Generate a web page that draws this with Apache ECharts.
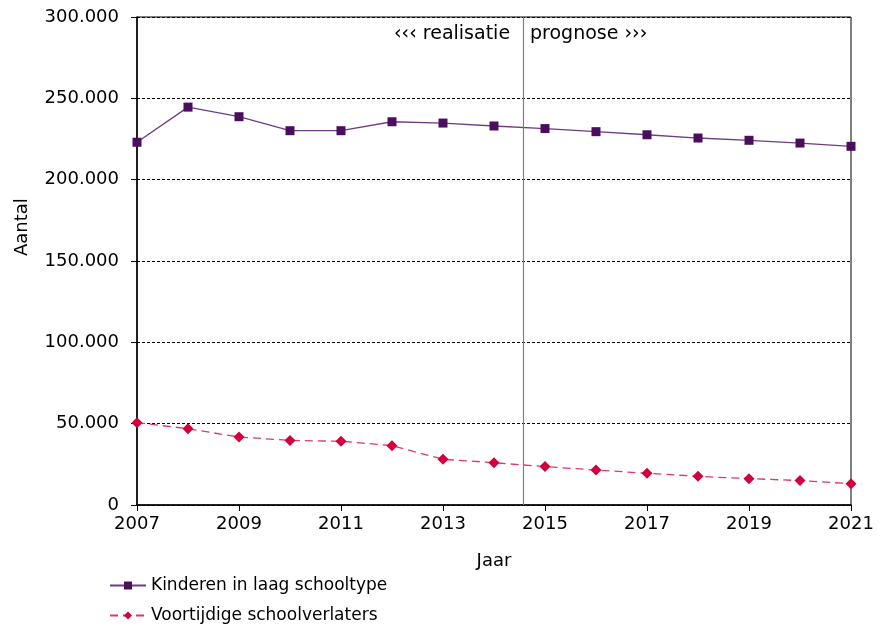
<!DOCTYPE html>
<html>
<head>
<meta charset="utf-8">
<script src="https://cdn.jsdelivr.net/npm/echarts@6/dist/echarts.min.js"></script>
<style>html,body{margin:0;padding:0;background:#fff}#c{width:880px;height:627px}</style>
</head>
<body>
<div id="c"></div>
<script>
const years = [2007,2008,2009,2010,2011,2012,2013,2014,2015,2016,2017,2018,2019,2020,2021];
const kinderen = [223000,244600,238700,230100,230100,235600,234800,233000,231400,229500,227600,225600,224200,222500,220500];
const voortijdig = [50600,46900,41800,39700,39200,36500,28100,26000,23600,21500,19500,17600,16200,15000,13100];
const seriesNames = ['Kinderen in laag schooltype','Voortijdige schoolverlaters'];
const splitYear = 2014.57;
const FONT = 'DejaVu Sans';

function fmt(v){ return String(v).replace(/\B(?=(\d{3})+(?!\d))/g,'.'); }

const chart = echarts.init(document.getElementById('c'));
chart.setOption({
  animation:false,
  textStyle:{fontFamily:FONT},
  grid:{left:137,right:29,top:17,bottom:122,show:true,borderColor:'#000',borderWidth:1,backgroundColor:'transparent'},
  xAxis:{type:'value',min:2007,max:2021,interval:2,
    axisLine:{show:true,lineStyle:{color:'#000',width:1.5}},
    axisTick:{show:true,length:6,lineStyle:{color:'#000'}},
    axisLabel:{color:'#000',fontSize:18,fontFamily:FONT,margin:10,formatter:v=>String(v)},
    splitLine:{show:false},
    name:'Jaar',nameLocation:'middle',nameGap:47,nameTextStyle:{color:'#000',fontSize:18,fontFamily:FONT}},
  yAxis:{type:'value',min:0,max:300000,interval:50000,
    axisLine:{show:true,lineStyle:{color:'#000',width:1.5}},
    axisTick:{show:true,length:6,lineStyle:{color:'#000'}},
    axisLabel:{color:'#000',fontSize:18,fontFamily:FONT,margin:18,formatter:v=>fmt(v)},
    splitLine:{show:true,lineStyle:{color:'#000',type:[3,2],width:1}}},
  legend:{orient:'vertical',left:109,top:577,padding:0,itemGap:13,itemWidth:36,itemHeight:10,
    height:60,
    textStyle:{color:'#000',fontSize:17,fontFamily:FONT},
    data:seriesNames},
  graphic:[
    {type:'text',x:13,y:256,rotation:Math.PI/2,style:{text:'Aantal',fill:'#000',font:'18px "DejaVu Sans"'}},
    {type:'text',x:394,y:25,style:{text:'‹‹‹ realisatie',fill:'#000',font:'19px "DejaVu Sans"'}},
    {type:'text',x:530,y:25,style:{text:'prognose ›››',fill:'#000',font:'19px "DejaVu Sans"'}}
  ],
  series:[
    {name:seriesNames[0],type:'line',data:years.map((y,i)=>[y,kinderen[i]]),
      symbol:'rect',symbolSize:9,
      itemStyle:{color:'#4A0E5E'},
      lineStyle:{color:'#6E3D80',width:1.3},
      markLine:{silent:true,symbol:'none',label:{show:false},
        lineStyle:{color:'#808080',type:'solid',width:1.2},
        data:[{xAxis:splitYear}]}},
    {name:seriesNames[1],type:'line',data:years.map((y,i)=>[y,voortijdig[i]]),
      symbol:'diamond',symbolSize:11,
      itemStyle:{color:'#D2003C'},
      lineStyle:{color:'#DA3A66',width:1.3,type:[8,5]}}
  ]
});
</script>
</body>
</html>
